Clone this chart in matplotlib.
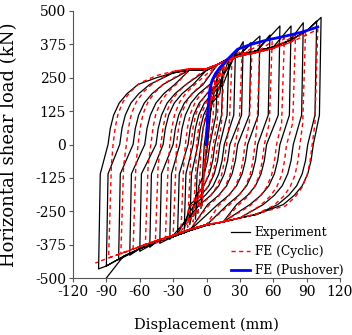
import matplotlib
matplotlib.use("Agg")
import matplotlib.pyplot as plt

plt.rcParams['font.family'] = ['DejaVu Serif']
plt.rcParams['axes.unicode_minus'] = False

# ---------------- data ----------------
# Experiment: cycle tips and zero-load crossings
exp_pos_d = [5, 10, 15, 20, 26, 33, 40, 48, 57, 66, 76, 87, 99, 103]
exp_pos_f = [215, 262, 290, 318, 345, 385, 382, 406, 410, 444, 444, 456, 462, 476]
exp_pos_z = [1, 3, 7.6, 12, 16, 21, 28, 37, 46, 54, 66, 78, 91, 96]
exp_neg_d = [-5, -10, -15, -20, -26, -33, -42, -51, -60, -69, -79, -90, -97, -90]
exp_neg_f = [-240, -280, -300, -318, -335, -355, -370, -385, -400, -415, -432, -455, -466, -500]
exp_neg_z = [-2, -5, -7.6, -12, -16.6, -24, -30, -39, -45.4, -55.5, -66, -78, -88.5, -80]
# shared reloading (upper) and unloading (lower) paths, experiment
exp_up_x = [-60, -45, -30, -15, 0, 10, 20, 30, 45, 60, 75, 90, 103]
exp_up_y = [222, 250, 268, 280, 278, 300, 322, 338, 350, 365, 390, 425, 470]
exp_lo_x = [90, 75, 60, 45, 30, 15, 0, -15, -30, -45, -60, -75, -90]
exp_lo_y = [-195, -225, -245, -262, -275, -290, -302, -322, -345, -365, -390, -420, -455]

# FE (Cyclic)
fe_pos_d = [4, 8, 12, 16, 23, 32, 41, 48, 59, 70, 80, 89, 100]
fe_pos_f = [200, 245, 275, 300, 325, 352, 362, 374, 386, 398, 410, 422, 432]
fe_pos_z = [0, 2, 6, 10, 18, 25.6, 34.6, 43.6, 52, 63, 72, 84, 95]
fe_neg_d = [-4, -8, -12, -17, -23, -30, -37, -46, -55, -66, -77, -88, -100]
fe_neg_f = [-230, -265, -290, -310, -325, -340, -355, -370, -380, -395, -410, -425, -444]
fe_neg_z = [-2, -5, -9, -14, -19, -27, -33, -41, -50, -61.5, -72, -84, -91.5]
fe_up_x = [-75, -60, -45, -30, -15, 0, 10, 20, 30, 45, 60, 75, 90, 100]
fe_up_y = [195, 232, 258, 274, 284, 284, 300, 318, 332, 345, 360, 382, 410, 432]
fe_lo_x = [90, 75, 60, 45, 30, 15, 0, -15, -30, -45, -60, -75, -90, -100]
fe_lo_y = [-190, -220, -242, -260, -275, -290, -300, -318, -340, -360, -382, -405, -428, -444]

# FE (Pushover)
push_d = [0, 0.5, 1.5, 3, 5, 8, 12, 18, 28, 40, 55, 70, 85, 100]
push_f = [0, 60, 140, 205, 240, 265, 288, 315, 357, 375, 392, 405, 420, 440]

# branch shape: knee after the tip (dx, load), then (offset from zero crossing, load)
exp_knee = (1.5, 110)
exp_branch_dx = [0, 2, 5, 10, 17, 27]
exp_branch_f = [0, 60, 110, 155, 190, 225]
fe_knee = (2.5, 80)
fe_branch_dx = [0, 2, 4.5, 9, 15, 24]
fe_branch_f = [0, 65, 115, 160, 195, 230]

x_ticks = [-120, -90, -60, -30, 0, 30, 60, 90, 120]
y_ticks = [-500, -375, -250, -125, 0, 125, 250, 375, 500]


def build(pd_, pf_, pz_, nd_, nf_, nz_, ux, uy, lx, ly, knee, bdx, bf):
    xs, ys = [0.0], [0.0]
    gap = bdx[-1] + 10
    for i in range(len(pd_)):
        # reload from previous negative tip to positive tip i
        last = xs[-1]
        start = 0
        if i > 0:
            z = nz_[i - 1]
            cand = [(nd_[i - 1] + knee[0], -knee[1])]
            cand += [(z + dx, f) for dx, f in zip(bdx, bf)]
            for (x, y) in cand:
                if last < x < pd_[i] - 2:
                    xs.append(x); ys.append(y); last = x
            start = z + gap
        for x, y in zip(ux, uy):
            if max(last + 4, start) < x < pd_[i] - 8:
                xs.append(x); ys.append(y); last = x
        xs.append(pd_[i]); ys.append(pf_[i]); last = pd_[i]
        # unload from positive tip i to negative tip i
        if i < len(nd_):
            z = pz_[i]
            cand = [(pd_[i] - knee[0], knee[1])]
            cand += [(z - dx, -f) for dx, f in zip(bdx, bf)]
            for (x, y) in cand:
                if nd_[i] + 1 < x < last:
                    xs.append(x); ys.append(y); last = x
            for x, y in zip(lx, ly):
                if nd_[i] + 5 < x < min(last - 4, z - gap):
                    xs.append(x); ys.append(y); last = x
            xs.append(nd_[i]); ys.append(nf_[i])
    return xs, ys


ex_x, ex_y = build(exp_pos_d, exp_pos_f, exp_pos_z, exp_neg_d, exp_neg_f, exp_neg_z,
                   exp_up_x, exp_up_y, exp_lo_x, exp_lo_y, exp_knee, exp_branch_dx, exp_branch_f)
fe_x, fe_y = build(fe_pos_d, fe_pos_f, fe_pos_z, fe_neg_d, fe_neg_f, fe_neg_z,
                   fe_up_x, fe_up_y, fe_lo_x, fe_lo_y, fe_knee, fe_branch_dx, fe_branch_f)

fig = plt.figure(figsize=(3.52, 3.35), dpi=100)
ax = fig.add_axes([73 / 352, 57 / 335, 267 / 352, 267 / 335])

ax.plot(ex_x, ex_y, color='black', lw=0.9, label='Experiment', zorder=2)
ax.plot(fe_x, fe_y, color='red', lw=1.0, ls=(0, (3, 2.5)), label='FE (Cyclic)', zorder=3)
ax.plot(push_d, push_f, color='blue', lw=2.0, label='FE (Pushover)', zorder=4)

ax.set_xlim(-120, 120)
ax.set_ylim(-500, 500)
ax.set_xticks(x_ticks)
ax.set_yticks(y_ticks)
ax.tick_params(direction='out', length=3, width=0.8, labelsize=10, pad=2, color='#555555')
for s in ['top', 'right']:
    ax.spines[s].set_visible(False)
for s in ['left', 'bottom']:
    ax.spines[s].set_color('#555555')
    ax.spines[s].set_linewidth(0.8)

ax.set_xlabel('Displacement (mm)', fontsize=10.5)
ax.set_ylabel('Horizontal shear load (kN)', fontsize=13)
ax.xaxis.set_label_coords(0.5, -0.15)
ax.yaxis.set_label_coords(-0.205, 0.5)

leg = ax.legend(loc='lower right', bbox_to_anchor=(1.04, -0.025), frameon=False, fontsize=8.8,
                handlelength=1.5, handletextpad=0.4, labelspacing=0.5, borderaxespad=0.2)

fig.savefig('out.png', dpi=100)
